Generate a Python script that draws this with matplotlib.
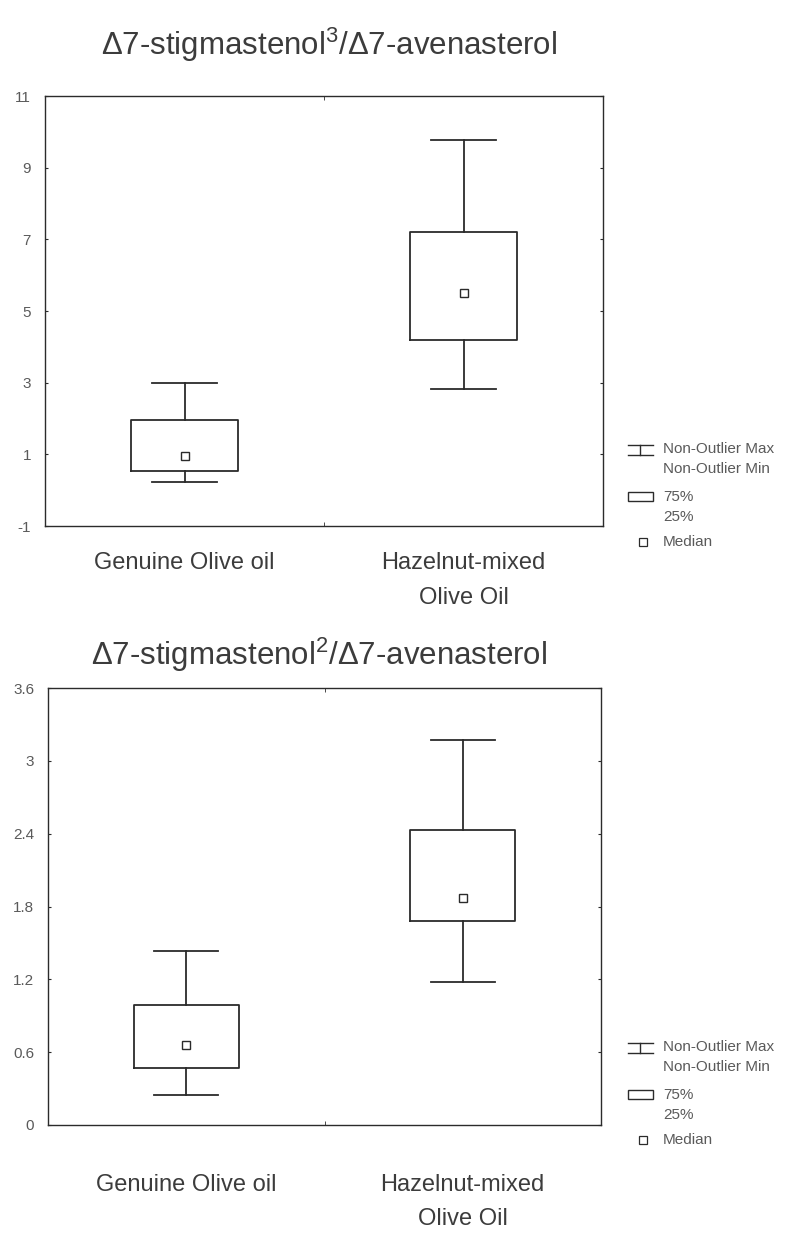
import matplotlib.pyplot as plt
from matplotlib.patches import Rectangle

plt.rcParams['font.family'] = ['Liberation Sans', 'DejaVu Sans']
plt.rcParams['mathtext.fontset'] = 'custom'
plt.rcParams['mathtext.rm'] = 'Liberation Sans'

groups = ['Genuine Olive oil', 'Hazelnut-mixed\nOlive Oil']

# panel 1: d7-stigmastenol3 / d7-avenasterol
top_min = [0.23, 2.83]
top_q1 = [0.53, 4.2]
top_med = [0.95, 5.5]
top_q3 = [1.95, 7.2]
top_max = [3.0, 9.78]
top_yticks = [-1, 1, 3, 5, 7, 9, 11]
top_ylabels = ['-1', '1', '3', '5', '7', '9', '11']

# panel 2: d7-stigmastenol2 / d7-avenasterol
bot_min = [0.25, 1.18]
bot_q1 = [0.47, 1.68]
bot_med = [0.66, 1.87]
bot_q3 = [0.99, 2.43]
bot_max = [1.43, 3.17]
bot_yticks = [0, 0.6, 1.2, 1.8, 2.4, 3, 3.6]
bot_ylabels = ['0', '0.6', '1.2', '1.8', '2.4', '3', '3.6']

legend_labels = ['Non-Outlier Max', 'Non-Outlier Min', '75%', '25%', 'Median']

W, H = 786, 1233
LINE = '#2b2b2b'
TXT = '#3c3c3c'

fig = plt.figure(figsize=(W / 100, H / 100), dpi=100)


def px_rect(l, t, r, b):
    return [l / W, 1 - b / H, (r - l) / W, (b - t) / H]


def panel(rect, lo, q1, med, q3, hi, yticks, ylabels, label_pad, spacing):
    ax = fig.add_axes(rect)
    stats = [dict(whislo=lo[i], q1=q1[i], med=med[i], q3=q3[i], whishi=hi[i])
             for i in range(len(groups))]
    lp = dict(color=LINE, lw=1.3)
    ax.bxp(stats, positions=list(range(len(groups))), widths=0.38, capwidths=0.23,
           showfliers=False, boxprops=lp, whiskerprops=lp, capprops=lp,
           medianprops=dict(visible=False), manage_ticks=False)
    ax.plot(range(len(groups)), med, ls='none', marker='s', ms=6,
            mfc='white', mec=LINE, mew=1)
    ax.set_xlim(-0.5, len(groups) - 0.5)
    ax.set_ylim(yticks[0], yticks[-1])
    ax.set_yticks(yticks, ylabels)
    ax.set_xticks(range(len(groups)), groups)
    ax.set_xticks([0.5], minor=True)
    ax.tick_params(axis='x', which='major', length=0, pad=label_pad,
                   labelsize=17, labelcolor=TXT)
    ax.tick_params(axis='x', which='minor', direction='in', length=3,
                   top=True, bottom=True, color=LINE)
    ax.tick_params(axis='y', direction='in', length=2, left=True, right=True,
                   labelsize=11, labelcolor='#5a5a5a', pad=10, color=LINE)
    for lab in ax.get_xticklabels():
        lab.set_linespacing(spacing)
    for s in ax.spines.values():
        s.set_color(LINE)
        s.set_linewidth(1.0)
    return ax


def legend(y0):
    # y0 = centre of the first legend text line, in picture pixels from the top
    lax = fig.add_axes(px_rect(615, y0 - 20, 786, y0 + 110))
    lax.set_xlim(615, 786)
    lax.set_ylim(y0 + 110, y0 - 20)
    lax.axis('off')
    kw = dict(color=LINE, lw=1.0)
    lax.plot([640, 640], [y0 - 4, y0 + 6], **kw)
    lax.plot([628, 653], [y0 - 4, y0 - 4], **kw)
    lax.plot([628, 653], [y0 + 6, y0 + 6], **kw)
    lax.add_patch(Rectangle((628, y0 + 43), 25, 9, fill=False, ec=LINE, lw=1.0))
    lax.plot([643], [y0 + 93], ls='none', marker='s', ms=5.5, mfc='white', mec=LINE, mew=0.9)
    ys = [y0, y0 + 20, y0 + 48, y0 + 68, y0 + 93]
    for y, t in zip(ys, legend_labels):
        lax.text(663, y, t, fontsize=11, color='#5a5a5a', va='center', ha='left')


panel(px_rect(45, 96, 603, 526), top_min, top_q1, top_med, top_q3, top_max,
      top_yticks, top_ylabels, 19, 1.75)
fig.text(329 / W, 1 - 45 / H, 'Δ7-stigmastenol$^{3}$/Δ7-avenasterol',
         fontsize=22.5, color=TXT, ha='center', va='center')
legend(449)

panel(px_rect(48, 688, 601, 1125), bot_min, bot_q1, bot_med, bot_q3, bot_max,
      bot_yticks, bot_ylabels, 35, 1.7)
fig.text(319 / W, 1 - 655 / H, 'Δ7-stigmastenol$^{2}$/Δ7-avenasterol',
         fontsize=22.5, color=TXT, ha='center', va='center')
legend(1047)

fig.savefig('out.png', dpi=100, facecolor='white')
